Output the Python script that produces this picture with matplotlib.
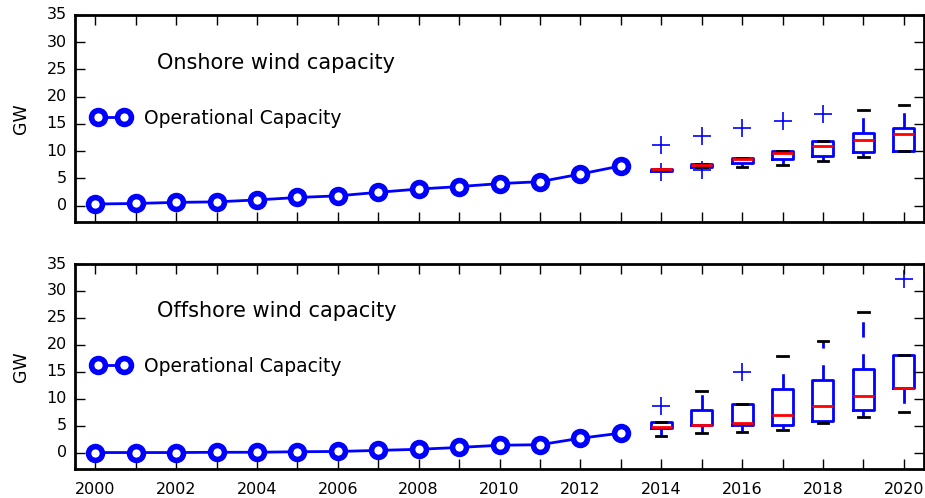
import matplotlib
matplotlib.use("Agg")
import matplotlib.pyplot as plt
from matplotlib.ticker import FixedLocator, FixedFormatter

plt.style.use('classic')
plt.rcParams['font.family'] = ['DejaVu Sans']
plt.rcParams['lines.scale_dashes'] = False

years = list(range(2000, 2014))
onshore_cap = [0.3, 0.4, 0.6, 0.7, 1.05, 1.5, 1.8, 2.45, 3.05, 3.5, 4.05, 4.4, 5.8, 7.3]
offshore_cap = [0.05, 0.05, 0.05, 0.1, 0.1, 0.2, 0.25, 0.45, 0.65, 1.0, 1.4, 1.5, 2.7, 3.65]

proj_years = list(range(2014, 2021))
on_q1 = [6.45, 7.15, 7.8, 8.65, 9.2, 9.8, 10.1]
on_med = [6.7, 7.45, 8.6, 9.7, 11.0, 12.0, 13.1]
on_q3 = [6.8, 7.6, 8.7, 10.1, 11.8, 13.4, 14.3]
on_lo = [6.45, 7.15, 7.05, 7.55, 8.2, 9.0, 10.0]
on_hi = [6.8, 7.6, 8.7, 10.1, 11.8, 17.6, 18.4]
on_fliers = [[11.1, 6.2], [12.7, 6.6], [14.25], [15.5], [16.8], [], []]

off_q1 = [4.6, 5.1, 5.1, 5.2, 5.85, 7.95, 12.05]
off_med = [4.75, 5.2, 5.5, 7.1, 8.75, 10.5, 12.05]
off_q3 = [5.8, 8.0, 9.05, 11.75, 13.5, 15.55, 18.1]
off_lo = [3.2, 3.65, 3.85, 4.3, 5.5, 6.55, 7.5]
off_hi = [5.8, 11.4, 9.05, 18.0, 20.8, 26.1, 18.1]
off_fliers = [[8.6], [], [15.0], [], [], [], [32.3]]

titles = ['Onshore wind capacity', 'Offshore wind capacity']
legend_label = 'Operational Capacity'
yticks = [0, 5, 10, 15, 20, 25, 30, 35]
xtick_labels = ['2000', '', '2002', '', '2004', '', '2006', '', '2008', '', '2010', '',
                '2012', '', '2014', '', '2016', '', '2018', '', '2020']

fig = plt.figure(figsize=(9.25, 4.98), dpi=100, facecolor='white')
W, H = 925.0, 498.0
ax_top = fig.add_axes([75 / W, 1 - 222 / H, 849 / W, 207 / H])
ax_bot = fig.add_axes([75 / W, 1 - 469 / H, 849 / W, 205 / H])

def make_stats(q1, med, q3, lo, hi, fl):
    stats = []
    for i in range(len(q1)):
        stats.append(dict(q1=q1[i], med=med[i], q3=q3[i], whislo=lo[i], whishi=hi[i],
                          fliers=fl[i]))
    return stats

panels = [
    (ax_top, onshore_cap, make_stats(on_q1, on_med, on_q3, on_lo, on_hi, on_fliers), titles[0]),
    (ax_bot, offshore_cap, make_stats(off_q1, off_med, off_q3, off_lo, off_hi, off_fliers), titles[1]),
]

for k, (ax, cap, stats, title) in enumerate(panels):
    ax.set_facecolor('white')
    ax.plot(years, cap, '-o', color='b', lw=2, ms=10, mfc='white', mec='b', mew=4,
            label=legend_label, zorder=3)
    ax.bxp(stats, positions=proj_years, widths=0.52, manage_ticks=False,
           boxprops=dict(color='b', linewidth=2),
           whiskerprops=dict(color='b', linewidth=2, linestyle=(0, (11, 12))),
           capprops=dict(color='k', linewidth=2),
           medianprops=dict(color='r', linewidth=2),
           flierprops=dict(marker='+', markeredgecolor='b', markersize=13,
                           markeredgewidth=1.2, linestyle='none'))
    ax.set_xlim(1999.5, 2020.5)
    ax.set_ylim(-3, 35)
    ax.yaxis.set_major_locator(FixedLocator(yticks))
    ax.xaxis.set_major_locator(FixedLocator(list(range(2000, 2021))))
    if k == 0:
        ax.xaxis.set_major_formatter(FixedFormatter([''] * 21))
    else:
        ax.xaxis.set_major_formatter(FixedFormatter(xtick_labels))
    ax.tick_params(axis='both', which='major', direction='in', length=7, width=1,
                   labelsize=11.5, top=True, right=True)
    ax.tick_params(axis='x', pad=9)
    ax.tick_params(axis='y', pad=6)
    for sp in ax.spines.values():
        sp.set_linewidth(2)
    ax.set_ylabel('GW', fontsize=12.5, labelpad=12)
    ax.text(0.097, 0.77, title, transform=ax.transAxes, fontsize=15, va='center', ha='left')
    ax.legend(loc='center left', bbox_to_anchor=(0.0, 0.5), frameon=False, numpoints=2,
              fontsize=13.5, handlelength=2, handletextpad=0.8)

fig.savefig('out.png', dpi=100, facecolor='white')
